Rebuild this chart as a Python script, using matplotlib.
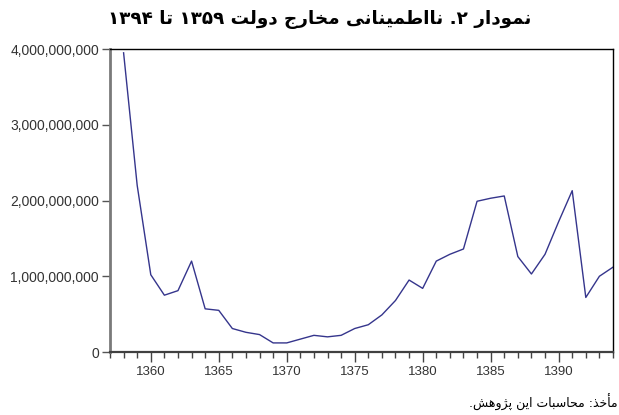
import numpy as np
import matplotlib
matplotlib.use("Agg")
import matplotlib.pyplot as plt
from matplotlib.ticker import FuncFormatter, MultipleLocator

# values
years = list(range(1358, 1395))
uncertainty = [3.95e9, 2.20e9, 1.02e9, 0.75e9, 0.81e9, 1.20e9, 0.57e9, 0.55e9,
               0.31e9, 0.26e9, 0.23e9, 0.12e9, 0.12e9, 0.17e9, 0.22e9, 0.20e9,
               0.22e9, 0.31e9, 0.36e9, 0.49e9, 0.68e9, 0.95e9, 0.84e9, 1.20e9,
               1.29e9, 1.36e9, 1.99e9, 2.03e9, 2.06e9, 1.26e9, 1.03e9, 1.29e9,
               1.72e9, 2.13e9, 0.72e9, 1.00e9, 1.12e9]
yticks = [0, 1e9, 2e9, 3e9, 4e9]
title_text = "نمودار ۲. نااطمینانی مخارج دولت ۱۳۵۹ تا ۱۳۹۴"
source_text = "مأخذ: محاسبات این پژوهش."

# minimal arabic/persian shaping (matplotlib does no text shaping / bidi)
FORMS = {
    'ا': ('\uFE8D', '\uFE8E', None, None),
    'أ': ('\uFE83', '\uFE84', None, None),
    'ب': ('\uFE8F', '\uFE90', '\uFE91', '\uFE92'),
    'ت': ('\uFE95', '\uFE96', '\uFE97', '\uFE98'),
    'ج': ('\uFE9D', '\uFE9E', '\uFE9F', '\uFEA0'),
    'ح': ('\uFEA1', '\uFEA2', '\uFEA3', '\uFEA4'),
    'خ': ('\uFEA5', '\uFEA6', '\uFEA7', '\uFEA8'),
    'د': ('\uFEA9', '\uFEAA', None, None),
    'ذ': ('\uFEAB', '\uFEAC', None, None),
    'ر': ('\uFEAD', '\uFEAE', None, None),
    'س': ('\uFEB1', '\uFEB2', '\uFEB3', '\uFEB4'),
    'ش': ('\uFEB5', '\uFEB6', '\uFEB7', '\uFEB8'),
    'ط': ('\uFEC1', '\uFEC2', '\uFEC3', '\uFEC4'),
    'ل': ('\uFEDD', '\uFEDE', '\uFEDF', '\uFEE0'),
    'م': ('\uFEE1', '\uFEE2', '\uFEE3', '\uFEE4'),
    'ن': ('\uFEE5', '\uFEE6', '\uFEE7', '\uFEE8'),
    'ه': ('\uFEE9', '\uFEEA', '\uFEEB', '\uFEEC'),
    'و': ('\uFEED', '\uFEEE', None, None),
    'پ': ('\uFB56', '\uFB57', '\uFB58', '\uFB59'),
    'ژ': ('\uFB8A', '\uFB8B', None, None),
    'ی': ('\uFBFC', '\uFBFD', '\uFBFE', '\uFBFF'),
}
DIGITS = "۰۱۲۳۴۵۶۷۸۹0123456789"


def shape_word(w):
    out = []
    for i, ch in enumerate(w):
        if ch not in FORMS:
            out.append(ch)
            continue
        prev = w[i - 1] if i > 0 else None
        nxt = w[i + 1] if i + 1 < len(w) else None
        jp = prev in FORMS and FORMS[prev][2] is not None
        jn = nxt in FORMS and FORMS[ch][2] is not None
        iso, fin, ini, med = FORMS[ch]
        out.append(med if jp and jn else fin if jp else ini if jn else iso)
    return ''.join(out)


def rtl(text):
    words = []
    for w in text.split(' '):
        w = shape_word(w)
        runs, cur = [], ''
        for ch in w:
            if cur and ((ch in DIGITS) != (cur[-1] in DIGITS)):
                runs.append(cur)
                cur = ''
            cur += ch
        runs.append(cur)
        runs = [r if r[0] in DIGITS else r[::-1] for r in runs]
        words.append(''.join(runs[::-1]))
    return ' '.join(words[::-1])


fig = plt.figure(figsize=(6.19, 4.15), dpi=100)
ax = fig.add_axes([0.1777, 0.1518, 0.8126, 0.7301])

ax.plot(years, uncertainty, color='#35358c', lw=1.0)

ax.set_xlim(1357, 1394)
ax.set_ylim(0, 4e9)
ax.xaxis.set_major_locator(MultipleLocator(5))
ax.xaxis.set_minor_locator(MultipleLocator(1))
ax.set_yticks(yticks)
ax.yaxis.set_major_formatter(FuncFormatter(lambda v, p: f"{v:,.0f}"))

ax.spines['left'].set_color('#7a7a7a')
ax.spines['left'].set_linewidth(2.0)
ax.spines['bottom'].set_color('#404040')
ax.spines['bottom'].set_linewidth(1.6)
ax.spines['top'].set_linewidth(1.0)
ax.spines['right'].set_linewidth(1.0)

ax.tick_params(axis='y', which='major', length=6, width=1, color='#555555',
               labelsize=10, labelcolor='#333333', pad=2)
ax.tick_params(axis='x', which='major', length=7, width=1, color='#444444',
               labelsize=9.5, labelcolor='#333333', pad=3)
ax.tick_params(axis='x', which='minor', length=4, width=1, color='#444444')
for lab in ax.get_xticklabels() + ax.get_yticklabels():
    lab.set_family('Liberation Sans')

fig.text(0.517, 0.954, rtl(title_text), ha='center', va='center',
         fontsize=13.2, fontweight='bold', family='DejaVu Sans')
fig.text(0.997, 0.031, rtl(source_text), ha='right', va='center',
         fontsize=9, family='DejaVu Sans')

fig.savefig('out.png', dpi=100)
